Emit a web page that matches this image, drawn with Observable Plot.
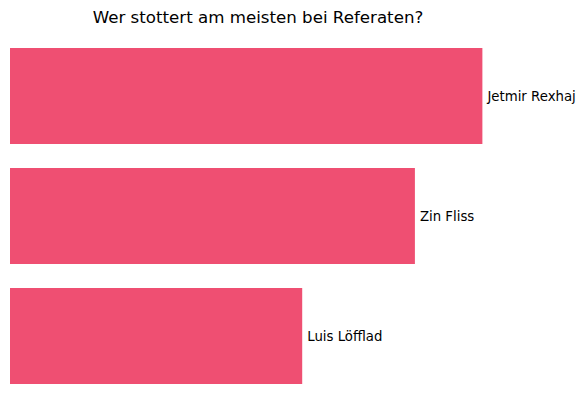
<!DOCTYPE html>
<html>
<head>
<meta charset="utf-8">
<script src="https://cdn.jsdelivr.net/npm/d3@7"></script>
<script src="https://cdn.jsdelivr.net/npm/@observablehq/plot@0.6"></script>
<style>
  html, body { margin: 0; padding: 0; background: #fff; }
  #wrap { position: relative; width: 588px; height: 411px; font-family: "DejaVu Sans", sans-serif; }
  #title { position: absolute; left: 10px; width: 496px; top: 0; height: 36px; line-height: 36px; text-align: center; font-size: 16.67px; color: #000; }
  #chart { position: absolute; left: 0; top: 36px; }
</style>
</head>
<body>
<div id="wrap">
  <div id="title">Wer stottert am meisten bei Referaten?</div>
  <div id="chart"></div>
</div>
<script>
const names = ["Jetmir Rexhaj", "Zin Fliss", "Luis Löfflad"];
const values = [7, 6, 4.33];

const data = names.map((n, i) => ({name: n, value: values[i]}));

const chart = Plot.plot({
  width: 588,
  height: 375,
  marginLeft: 10,
  marginRight: 82,
  marginTop: 0,
  marginBottom: 15,
  style: {fontFamily: "DejaVu Sans, sans-serif", background: "#fff"},
  x: {domain: [0, 7 * 1.05], axis: null},
  y: {domain: names, paddingInner: 0.2, paddingOuter: 0.1, axis: null},
  marks: [
    Plot.barX(data, {x: "value", y: "name", fill: "#ef4f72"}),
    Plot.text(data, {x: "value", y: "name", text: "name", textAnchor: "start", dx: 4.5, fontSize: 13.3, fill: "#000"})
  ]
});
document.getElementById("chart").appendChild(chart);
</script>
</body>
</html>
